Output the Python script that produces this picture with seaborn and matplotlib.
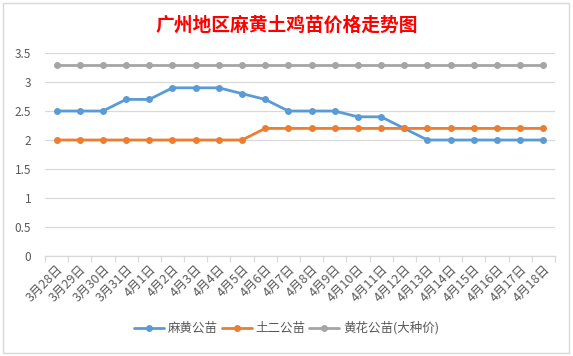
import pandas as pd
import seaborn as sns
import matplotlib.pyplot as plt
from matplotlib.patches import Rectangle

dates = ['3月28日', '3月29日', '3月30日', '3月31日', '4月1日', '4月2日', '4月3日', '4月4日',
         '4月5日', '4月6日', '4月7日', '4月8日', '4月9日', '4月10日', '4月11日', '4月12日',
         '4月13日', '4月14日', '4月15日', '4月16日', '4月17日', '4月18日']
mahuang = [2.5, 2.5, 2.5, 2.7, 2.7, 2.9, 2.9, 2.9, 2.8, 2.7, 2.5, 2.5, 2.5, 2.4, 2.4, 2.2,
           2.0, 2.0, 2.0, 2.0, 2.0, 2.0]
tuer = [2.0, 2.0, 2.0, 2.0, 2.0, 2.0, 2.0, 2.0, 2.0, 2.2, 2.2, 2.2, 2.2, 2.2, 2.2, 2.2,
        2.2, 2.2, 2.2, 2.2, 2.2, 2.2]
huanghua = [3.3] * 22
series_names = ['麻黄公苗', '土二公苗', '黄花公苗(大种价)']
colors = ['#5B9BD5', '#ED7D31', '#A5A5A5']

df = pd.DataFrame({'idx': list(range(len(dates))) * 3,
                   'price': mahuang + tuer + huanghua,
                   'series': sum([[n] * len(dates) for n in series_names], [])})

sns.set_theme(style='white')
plt.rcParams['font.family'] = ['Noto Sans CJK SC', 'DejaVu Sans']

fig = plt.figure(figsize=(5.73, 3.56), dpi=100)
ax = fig.add_axes([0.0785, 0.281, 0.890, 0.570])

sns.lineplot(data=df, x='idx', y='price', hue='series', palette=colors, marker='o',
             markersize=5, markeredgewidth=0, linewidth=2, ax=ax)

ax.set_xlim(-0.5, len(dates) - 0.5)
ax.set_ylim(0, 3.5)
ax.set_yticks([0, 0.5, 1, 1.5, 2, 2.5, 3, 3.5])
ax.set_yticklabels(['0', '0.5', '1', '1.5', '2', '2.5', '3', '3.5'])
ax.yaxis.grid(True, color='#D9D9D9', linewidth=0.9)
ax.set_axisbelow(True)
ax.set_xticks(range(len(dates)))
ax.set_xticklabels(dates, rotation=45, ha='right', rotation_mode='anchor')
ax.set_xticks([i - 0.5 for i in range(len(dates) + 1)], minor=True)
ax.tick_params(axis='x', which='major', length=0, labelsize=9, labelcolor='#595959', pad=5)
ax.tick_params(axis='x', which='minor', length=4, color='#D9D9D9', width=0.9, direction='out', bottom=True)
ax.tick_params(axis='y', length=0, labelsize=8.5, labelcolor='#595959', pad=10)
for s in ['top', 'right', 'left']:
    ax.spines[s].set_visible(False)
ax.spines['bottom'].set_color('#D9D9D9')
ax.spines['bottom'].set_linewidth(0.9)
ax.set_xlabel('')
ax.set_ylabel('')

handles, labels = ax.get_legend_handles_labels()
ax.legend_.remove()
leg = fig.legend(handles, labels, loc='center', bbox_to_anchor=(0.5, 0.078), ncol=3,
                 frameon=False, fontsize=9, handlelength=2.4, columnspacing=0.3, handletextpad=0.3)
for t in leg.get_texts():
    t.set_color('#595959')

fig.text(0.5, 0.93, '广州地区麻黄土鸡苗价格走势图', ha='center', va='center',
         color='#FF0000', fontsize=13.5, fontweight='bold')

fig.patches.append(Rectangle((3 / 573, 3 / 356), 566 / 573, 350 / 356, transform=fig.transFigure,
                             fill=False, edgecolor='#D9D9D9', linewidth=1))

fig.savefig('out.png', dpi=100)
